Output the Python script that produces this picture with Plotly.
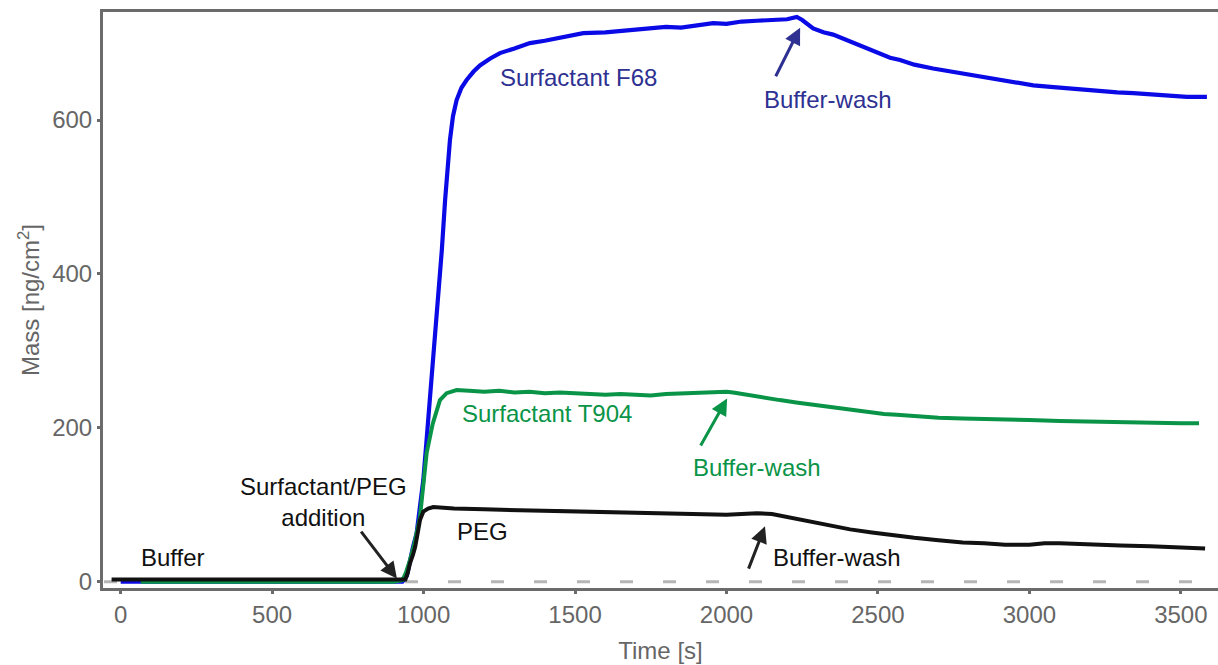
import plotly.graph_objects as go

# Adsorbed mass on the sensor surface over time (QCM-style trace)
f68_t = [0, 100, 200, 300, 400, 500, 600, 700, 800, 900, 930, 945, 955, 965, 977, 988, 999,
         1010, 1021, 1035, 1049, 1060, 1071, 1080, 1087, 1097, 1109, 1125, 1142, 1165, 1186,
         1220, 1252, 1300, 1351, 1400, 1439, 1480, 1527, 1600, 1650, 1700, 1750, 1800, 1850,
         1900, 1956, 2000, 2050, 2100, 2150, 2200, 2232, 2250, 2286, 2320, 2352, 2397, 2430,
         2463, 2500, 2540, 2573, 2620, 2682, 2740, 2792, 2850, 2903, 2950, 3013, 3070, 3124,
         3180, 3233, 3290, 3343, 3400, 3453, 3520, 3586]
f68_m = [0, 0, 0, 0, 0, 0, 0, 0, 0, 0, 0, 8, 28, 45, 63, 95, 132,
         185, 236, 300, 366, 430, 496, 540, 574, 605, 626, 642, 652, 663, 671,
         680, 687, 693, 700, 703, 706, 709, 713, 714, 716, 718, 719, 721, 720,
         723, 726, 725, 728, 729, 730, 731, 734, 730, 719, 714, 711, 704, 699,
         694, 688, 681, 678, 672, 667, 663, 660, 655, 652, 649, 645, 643, 641,
         639, 637, 636, 635, 633, 632, 630, 630]

t904_t = [66, 200, 400, 600, 800, 900, 930, 940, 955, 970, 988, 1000, 1010, 1030, 1054, 1076,
          1109, 1150, 1200, 1250, 1300, 1350, 1400, 1450, 1500, 1550, 1600, 1650, 1700, 1750,
          1800, 1850, 1900, 1950, 2000, 2022, 2066, 2100, 2176, 2230, 2286, 2340, 2397, 2465,
          2520, 2562, 2620, 2700, 2780, 2850, 2943, 3000, 3100, 3200, 3300, 3400, 3500, 3560]
t904_m = [0, 0, 0, 0, 0, 0, 2, 10, 28, 50, 84, 125, 167, 205, 236, 245,
          249, 248, 247, 248, 246, 247, 245, 246, 245, 244, 243, 244, 243, 242,
          244, 245, 245, 246, 247, 246, 243, 240, 236, 233, 230, 227, 224, 220,
          218, 217, 215, 213, 212, 211, 210, 210, 209, 208, 208, 207, 206, 206]

peg_t = [-30, 200, 400, 600, 800, 940, 948, 955, 965, 972, 980, 988, 999, 1015, 1032, 1100,
         1200, 1300, 1400, 1500, 1600, 1700, 1800, 1900, 2000, 2050, 2100, 2150, 2200, 2250,
         2300, 2350, 2408, 2480, 2550, 2620, 2700, 2780, 2850, 2920, 3000, 3050, 3100, 3150,
         3200, 3300, 3400, 3500, 3580]
peg_m = [3, 3, 3, 3, 3, 3, 12, 24, 35, 45, 62, 80, 91, 95, 97, 95,
         94, 93, 92, 92, 90, 89, 88, 88, 87, 88, 89, 88, 84, 80,
         76, 72, 68, 64, 60, 57, 54, 51, 50, 48, 48, 50, 50, 49,
         48, 47, 46, 45, 43]

x_ticks = [0, 500, 1000, 1500, 2000, 2500, 3000, 3500]
y_ticks = [0, 200, 400, 600]

BLUE = "#0a0ae6"
NAVY = "#2e3192"
GREEN = "#0a9447"
BLACK = "#111111"
AXIS = "#6b6b6b"
TICKTXT = "#666666"
FONT = "Liberation Sans, Arial, Helvetica, sans-serif"
TXT = 24

fig = go.Figure()

# zero reference line
fig.add_trace(go.Scatter(x=[-55, 3625], y=[0, 0], mode="lines",
                         line=dict(color="#b5b5b5", width=3, dash="13px,30px"),
                         hoverinfo="skip"))
fig.add_trace(go.Scatter(x=f68_t, y=f68_m, mode="lines", name="Surfactant F68",
                         line=dict(color=BLUE, width=4.2)))
fig.add_trace(go.Scatter(x=t904_t, y=t904_m, mode="lines", name="Surfactant T904",
                         line=dict(color=GREEN, width=4)))
fig.add_trace(go.Scatter(x=peg_t, y=peg_m, mode="lines", name="PEG",
                         line=dict(color=BLACK, width=4)))


def label(text, x, y, color):
    fig.add_annotation(x=x, y=y, text=text, showarrow=False, xref="x", yref="y",
                       xanchor="center", yanchor="middle",
                       font=dict(family=FONT, size=TXT, color=color))


def arrow(x0, y0, x1, y1, color):
    fig.add_annotation(x=x1, y=y1, ax=x0, ay=y0, xref="x", yref="y",
                       axref="x", ayref="y", text="", showarrow=True,
                       arrowhead=2, arrowsize=1.1, arrowwidth=3, arrowcolor=color)


label("Surfactant F68", 1510, 655, NAVY)
label("Buffer-wash", 2335, 627, NAVY)
arrow(2160, 655, 2243, 720, NAVY)

label("Surfactant T904", 1407, 219, GREEN)
label("Buffer-wash", 2100, 149, GREEN)
arrow(1912, 175, 2002, 238, GREEN)

label("PEG", 1193, 65, BLACK)
label("Buffer-wash", 2365, 32, BLACK)
arrow(2071, 15, 2127, 72, "#222222")

label("Surfactant/PEG<br>addition", 668, 104, BLACK)
arrow(790, 67, 912, 4, "#222222")

label("Buffer", 172, 32, BLACK)

fig.update_layout(
    width=1218, height=665,
    margin=dict(l=103, r=0, t=12, b=77),
    paper_bgcolor="white", plot_bgcolor="white",
    showlegend=False,
    font=dict(family=FONT, color=TICKTXT),
    xaxis=dict(range=[-58.4, 3622.6], tickvals=x_ticks, ticktext=[str(v) for v in x_ticks],
               showgrid=False, zeroline=False, showline=True, mirror=True,
               linecolor=AXIS, linewidth=3, ticks="outside", ticklen=3, tickwidth=3,
               tickcolor=AXIS, tickfont=dict(size=TXT, color=TICKTXT),
               title=dict(text="Time [s]", font=dict(size=TXT, color=TICKTXT), standoff=16)),
    yaxis=dict(range=[-8.2, 740.4], tickvals=y_ticks, ticktext=[str(v) for v in y_ticks],
               showgrid=False, zeroline=False, showline=True,
               linecolor=AXIS, linewidth=3, ticks="outside", ticklen=3, tickwidth=3,
               tickcolor=AXIS, tickfont=dict(size=TXT, color=TICKTXT),
               title=dict(text="Mass [ng/cm<sup>2</sup>]", font=dict(size=TXT, color=TICKTXT),
                          standoff=6)),
)

fig.write_html("out.html")
